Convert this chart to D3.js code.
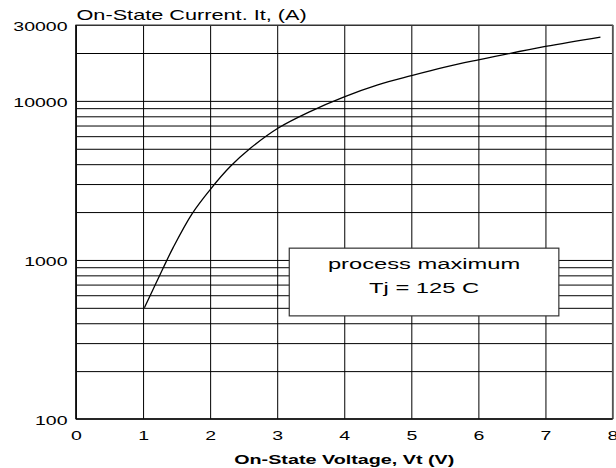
<!DOCTYPE html>
<html>
<head>
<meta charset="utf-8">
<script src="https://cdn.jsdelivr.net/npm/d3@7"></script>
<style>
  html, body { margin: 0; padding: 0; background: #fff; }
  svg { display: block; font-family: "Liberation Sans", Arial, sans-serif; }
</style>
</head>
<body>
<svg id="chart" width="616" height="468"></svg>
<script>
// ---- data ----
const voltage = [1.02, 1.30, 1.45, 1.73, 2.01, 2.30, 2.60, 3.01, 3.49, 4.0, 4.5, 5.0, 5.5, 6.0, 7.0, 7.82];
const current = [500, 890, 1200, 1950, 2800, 3864, 5035, 6730, 8570, 10600, 12600, 14400, 16300, 18100, 22000, 25200];
const xTicks = [0, 1, 2, 3, 4, 5, 6, 7, 8];
const yTickLabels = [100, 1000, 10000, 30000];
const yGridValues = [200, 300, 400, 500, 600, 700, 800, 900, 1000, 2000, 3000, 4000, 5000, 6000, 7000, 8000, 9000, 10000, 20000, 30000];
const xTitle = "On-State Voltage, Vt (V)";
const yTitle = "On-State Current. It, (A)";
const noteLines = ["process maximum", "Tj = 125 C"];
const noteBoxV = [3.18, 7.2];      // box extent in volts
const noteBoxI = [1186, 445];      // box extent in amps

// ---- layout ----
const svg = d3.select("#chart");
const mL = 76, mR = 612.5, mT = 25, mB = 419;
const x = d3.scaleLinear().domain([0, 8]).range([mL, mR]);
const y = d3.scaleLog().domain([100, 30000]).range([mB, mT]);
const SX = 1.5;

// horizontal grid
svg.append("g")
  .attr("transform", `translate(${mL},0)`)
  .call(d3.axisLeft(y).tickValues(yGridValues).tickSize(-(mR - mL)).tickFormat(""))
  .call(g => g.select(".domain").remove())
  .call(g => g.selectAll("line").attr("stroke", "#000").attr("stroke-width", 1));

// vertical grid
svg.append("g")
  .attr("transform", `translate(0,${mB})`)
  .call(d3.axisBottom(x).tickValues(xTicks).tickSize(-(mB - mT)).tickFormat(""))
  .call(g => g.select(".domain").remove())
  .call(g => g.selectAll("line").attr("stroke", "#000").attr("stroke-width", 1));

// plot border
svg.append("rect")
  .attr("x", mL).attr("y", mT)
  .attr("width", mR - mL).attr("height", mB - mT)
  .attr("fill", "none").attr("stroke", "#555").attr("stroke-width", 1.2);
svg.append("line").attr("x1", mL).attr("x2", mL).attr("y1", mT).attr("y2", mB)
  .attr("stroke", "#000").attr("stroke-width", 1.5);
svg.append("line").attr("x1", mL).attr("x2", mR).attr("y1", mB).attr("y2", mB)
  .attr("stroke", "#000").attr("stroke-width", 1.5);

// y tick labels
svg.append("g")
  .attr("transform", `translate(${mL},0)`)
  .call(d3.axisLeft(y).tickValues(yTickLabels).tickSize(0).tickFormat(d3.format("d")))
  .call(g => g.select(".domain").remove())
  .call(g => g.selectAll("text")
    .attr("font-size", 13).attr("fill", "#000")
    .attr("font-family", "Liberation Sans, Arial, sans-serif")
    .attr("x", -8.5 / SX).attr("dy", "0.42em")
    .attr("transform", `scale(${SX},1)`));

// x tick labels
svg.append("g")
  .attr("transform", `translate(0,${mB})`)
  .call(d3.axisBottom(x).tickValues(xTicks).tickSize(0).tickPadding(11.3).tickFormat(d3.format("d")))
  .call(g => g.select(".domain").remove())
  .call(g => g.selectAll("text")
    .attr("font-size", 13).attr("fill", "#000")
    .attr("font-family", "Liberation Sans, Arial, sans-serif")
    .attr("transform", `scale(${SX},1)`));

// titles
function stretched(tx, ty, str, anchor, size, weight, sx) {
  svg.append("text")
    .attr("transform", `translate(${tx},${ty}) scale(${sx},1)`)
    .attr("text-anchor", anchor)
    .attr("font-size", size)
    .attr("font-weight", weight)
    .attr("fill", "#000")
    .text(str);
}
stretched(mL + 0.5, 19.5, yTitle, "start", 14, "normal", 1.55);
stretched((mL + mR) / 2, 463.5, xTitle, "middle", 13, "bold", 1.52);

// curve
const pts = voltage.map((v, i) => [v, current[i]]);
svg.append("path")
  .datum(pts)
  .attr("fill", "none")
  .attr("stroke", "#000")
  .attr("stroke-width", 1.3)
  .attr("d", d3.line().x(d => x(d[0])).y(d => y(d[1])).curve(d3.curveCatmullRom.alpha(0.5)));

// annotation box
const bx0 = x(noteBoxV[0]), bx1 = x(noteBoxV[1]);
const by0 = y(noteBoxI[0]), by1 = y(noteBoxI[1]);
svg.append("rect")
  .attr("x", bx0).attr("y", by0)
  .attr("width", bx1 - bx0).attr("height", by1 - by0)
  .attr("fill", "#fff").attr("stroke", "#333").attr("stroke-width", 1.2);
const bcx = (bx0 + bx1) / 2;
stretched(bcx, by0 + 21, noteLines[0], "middle", 15, "normal", 1.58);
stretched(bcx, by0 + 45, noteLines[1], "middle", 15, "normal", 1.58);
</script>
</body>
</html>
